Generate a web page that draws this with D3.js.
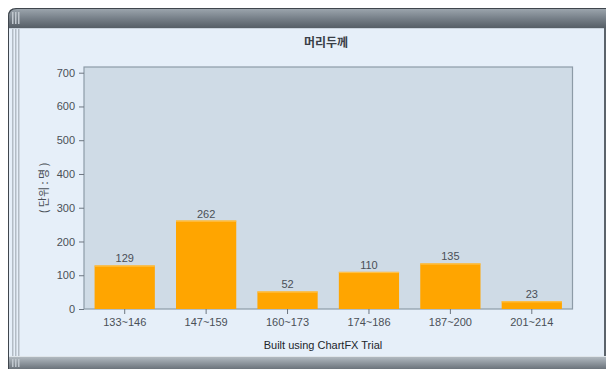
<!DOCTYPE html>
<html><head><meta charset="utf-8">
<script src="https://cdn.jsdelivr.net/npm/d3@7"></script>
<style>html,body{margin:0;padding:0;background:#fff;overflow:hidden}</style>
</head><body>
<svg id="c" width="606" height="369"></svg>
<script>
const categories = ["133~146","147~159","160~173","174~186","187~200","201~214"];
const values = [129, 262, 52, 110, 135, 23];
const yTicks = [0,100,200,300,400,500,600,700];
const title = "머리두께";
const yTitle = "( 단위 : 명 )";
const footer = "Built using ChartFX Trial";

const svg = d3.select("#c");
const defs = svg.append("defs");
const hg = defs.append("linearGradient").attr("id","hg").attr("x1",0).attr("x2",0).attr("y1",0).attr("y2",1);
hg.append("stop").attr("offset","0").attr("stop-color","#9ba4ac");
hg.append("stop").attr("offset","0.5").attr("stop-color","#767f88");
hg.append("stop").attr("offset","1").attr("stop-color","#565e66");
const bg = defs.append("linearGradient").attr("id","bg").attr("x1",0).attr("x2",0).attr("y1",0).attr("y2",1);
bg.append("stop").attr("offset","0").attr("stop-color","#b7bfc6");
bg.append("stop").attr("offset","1").attr("stop-color","#6b737b");

// frame
svg.append("path").attr("d","M8,369 L8,16 Q8,8 16,8 L606,8 L606,369 Z").attr("fill","#3f464d");
svg.append("path").attr("d","M9,28 L9,17 Q9,9 17,9 L606,9 L606,28 Z").attr("fill","url(#hg)");
svg.append("rect").attr("x",9).attr("y",28).attr("width",595).attr("height",328).attr("fill","#e6eff9");
svg.append("rect").attr("x",9).attr("y",28).attr("width",595).attr("height",1).attr("fill","#c9d3dc");
svg.append("rect").attr("x",9).attr("y",356).attr("width",597).attr("height",13).attr("fill","url(#bg)");
svg.append("rect").attr("x",9).attr("y",356).attr("width",597).attr("height",1).attr("fill","#dfe5ea");
svg.append("rect").attr("x",604).attr("y",28).attr("width",2).attr("height",328).attr("fill","#5b636b");
// grip lines
[12,15,18].forEach(x=>{
  svg.append("rect").attr("x",x).attr("y",29).attr("width",1.5).attr("height",327).attr("fill","#b3bcc5");
  svg.append("rect").attr("x",x).attr("y",12).attr("width",1.5).attr("height",12).attr("fill","#c0c7ce");
  svg.append("rect").attr("x",x).attr("y",359).attr("width",1.5).attr("height",8).attr("fill","#c0c7ce");
});

// plot
const L=84, R=572.5, T=67, B=309;
const x = d3.scaleBand().domain(categories).range([L,R]).paddingInner(0.26).paddingOuter(0.13);
const y = d3.scaleLinear().domain([0,700]).range([B,72.7]);

svg.append("rect").attr("x",L).attr("y",T).attr("width",R-L).attr("height",B-T)
  .attr("fill","#cfdbe6").attr("stroke","#8d9ba7").attr("stroke-width",1.2);

const g = svg.append("g");
g.selectAll("rect.bar").data(values).join("rect").attr("class","bar")
  .attr("x",(d,i)=>x(categories[i])).attr("width",x.bandwidth())
  .attr("y",d=>y(d)).attr("height",d=>B-y(d)).attr("fill","#ffa500");
g.selectAll("rect.top").data(values).join("rect").attr("class","top")
  .attr("x",(d,i)=>x(categories[i])).attr("width",x.bandwidth())
  .attr("y",d=>y(d)).attr("height",1.2).attr("fill","#ffc24a");
g.selectAll("text.val").data(values).join("text").attr("class","val")
  .attr("x",(d,i)=>x(categories[i])+x.bandwidth()/2).attr("y",d=>y(d)-3)
  .attr("text-anchor","middle").attr("font-family","Liberation Sans, Arial, sans-serif")
  .attr("font-size",11).attr("fill","#4a4f57").text(d=>d);

// axes
const ya = svg.append("g").attr("transform",`translate(${L},0)`)
  .call(d3.axisLeft(y).tickValues(yTicks).tickSize(5).tickPadding(4));
ya.select(".domain").remove();
ya.selectAll("line").attr("stroke","#6d7680");
ya.selectAll("text").attr("font-family","Liberation Sans, Arial, sans-serif").attr("font-size",11).attr("fill","#4a4f57");

const xa = svg.append("g").attr("transform",`translate(0,${B})`)
  .call(d3.axisBottom(x).tickSize(5).tickPadding(4));
xa.select(".domain").remove();
xa.selectAll("line").attr("stroke","#6d7680");
xa.selectAll("text").attr("font-family","Liberation Sans, Arial, sans-serif").attr("font-size",11).attr("fill","#4a4f57");

// texts
svg.append("text").attr("x",326).attr("y",47).attr("text-anchor","middle")
  .attr("font-family","Noto Sans CJK KR").attr("font-weight","bold").attr("font-size",12)
  .attr("fill","#3a3f47").text(title);
svg.append("text").attr("transform","translate(48,188) rotate(-90)").attr("text-anchor","middle")
  .attr("font-family","Noto Sans CJK KR").attr("font-size",11).attr("fill","#4a4f57").text(yTitle);
svg.append("text").attr("x",323).attr("y",349).attr("text-anchor","middle")
  .attr("font-family","Liberation Sans, Arial, sans-serif").attr("font-size",11).attr("fill","#22262b").text(footer);
</script>
</body></html>
